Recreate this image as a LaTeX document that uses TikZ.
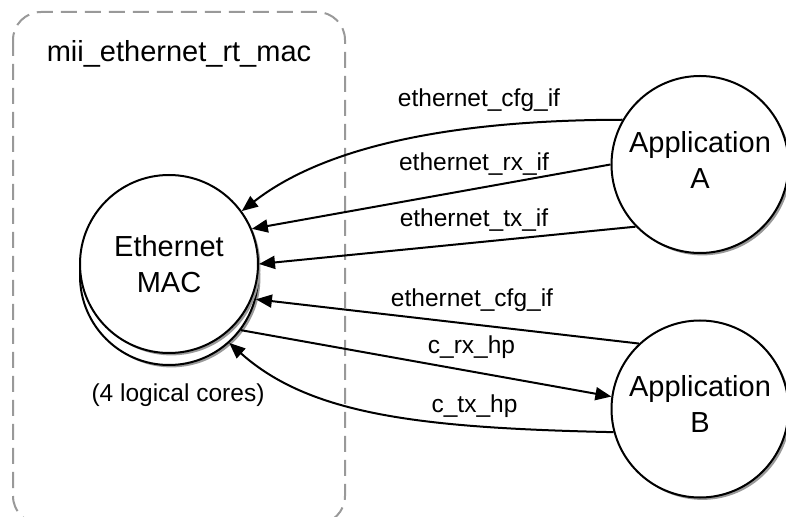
\documentclass[tikz,border=0pt]{standalone}
\usepackage{fontspec}
\setmainfont{Liberation Sans}
\usetikzlibrary{arrows.meta,shadows}

\tikzset{
  proc/.style={circle, draw, line width=1pt, fill=white, minimum size=88.5pt,
    inner sep=0pt, align=center, font=\fontsize{14.5}{18}\selectfont,
    drop shadow={shadow xshift=1.2pt, shadow yshift=-1.2pt, fill=black!40, opacity=1}},
  link/.style={line width=1pt, -{Triangle[length=8pt,width=6.5pt]}},
  lbl/.style={anchor=base, inner sep=0pt, font=\fontsize{12.25}{14}\selectfont},
  grpbox/.style={draw=black!40, line width=1pt, dash pattern=on 8pt off 4pt,
    rounded corners=14pt}
}
\newcommand{\lowstrut}{\rule[-5pt]{0pt}{5pt}}

\begin{document}
\begin{tikzpicture}[x=0.5pt,y=-0.5pt]
  \useasboundingbox (0,0) rectangle (786,517);
  % component box
  \draw[grpbox] (13,12) rectangle (345,524);
  \node[lbl, font=\fontsize{14.5}{18}\selectfont] (title) at (179,62) {mii\_ethernet\_rt\_mac};
  % stacked MAC cores
  \node[proc, minimum size=89pt] (macback) at (169,276) {};
  \node[proc, minimum size=89pt] (mac) at (169,264) {Ethernet\\MAC};
  \node[lbl] (cores) at (178,402) {(4 logical cores)};
  % applications
  \node[proc] (appA) at (700,164.5) {Application\\A\lowstrut};
  \node[proc] (appB) at (700,409) {Application\\B\lowstrut};
  % interfaces
  \draw[link] (appA.150) .. controls (440,120) and (320,150) .. (mac.36);
  \draw[link] (appA.180) -- (mac.23);
  \draw[link] (appA.224) -- (mac.0);
  \draw[link] (appB.133) -- (macback.-15);
  \draw[link] (macback.-37) -- (appB.172);
  \draw[link] (appB.195) .. controls (420,428) and (310,415) .. (macback.-48);
  \node[lbl] (cfga) at (479,107) {ethernet\_cfg\_if};
  \node[lbl] (rxa) at (474,171) {ethernet\_rx\_if};
  \node[lbl] (txa) at (474,227) {ethernet\_tx\_if};
  \node[lbl] (cfgb) at (472,307) {ethernet\_cfg\_if};
  \node[lbl] (rxb) at (471.5,354) {c\_rx\_hp};
  \node[lbl] (txb) at (474.5,413) {c\_tx\_hp};
\end{tikzpicture}
\end{document}
